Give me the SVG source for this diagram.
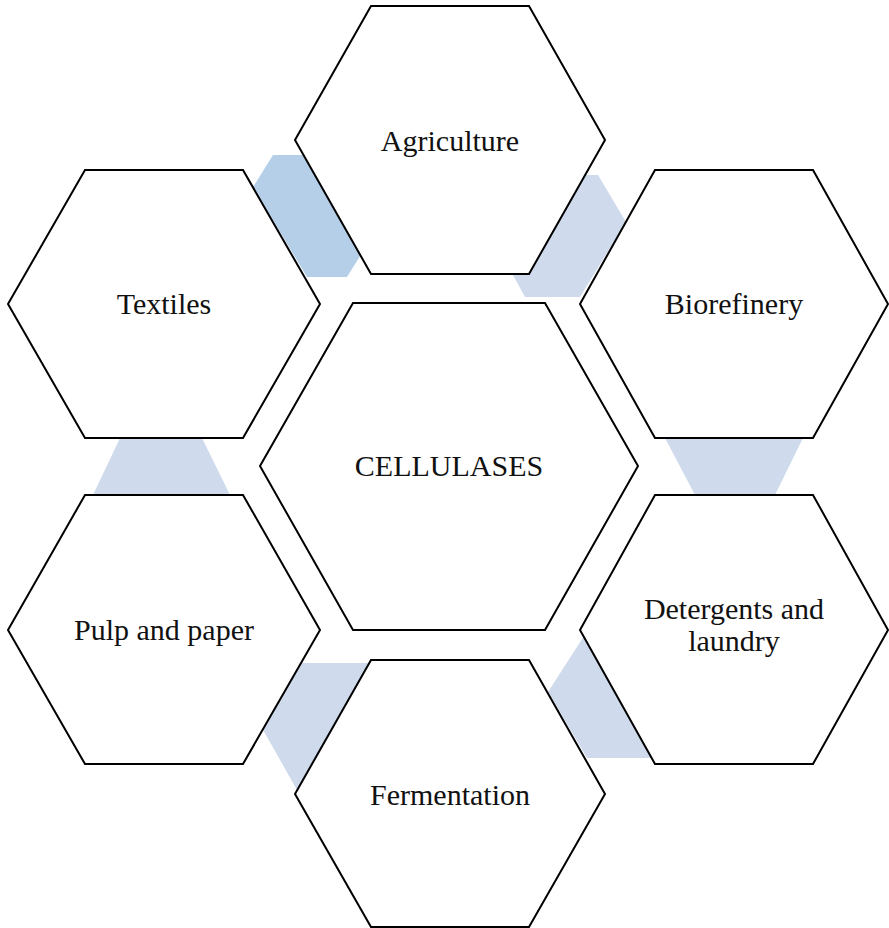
<svg xmlns="http://www.w3.org/2000/svg" width="889" height="928" viewBox="0 0 889 928">
<style>
.hex{fill:#ffffff;stroke:#000000;stroke-width:2;stroke-linejoin:miter}
.lbl{font-family:"Liberation Serif","Times New Roman",serif;font-size:30px;fill:#111111;text-anchor:middle}
.c1{fill:#b5cfe9}
.c2{fill:#cfdbec}
</style>
<rect width="889" height="928" fill="#ffffff"/>
<g id="connectors">
<polygon class="c1" points="273,155 305,155 362,253 347,277 307,277 253,187"/>
<polygon class="c2" points="586,175 598,175 626,222 580,297 525,297 513,275"/>
<polygon class="c2" points="120,438 202,438 230,495 93,495"/>
<polygon class="c2" points="665,438 803,438 775,495 695,495"/>
<polygon class="c2" points="300,663 371,663 297,790 262,728"/>
<polygon class="c2" points="584,636 548,692 587,758 655,758"/>
</g>
<g id="agriculture">
<polygon class="hex" points="371,6 529,6 605,140 529,274 371,274 295,140"/>
<text class="lbl" x="450" y="151">Agriculture</text>
</g>
<g id="textiles">
<polygon class="hex" points="85,170 243,170 320,304 243,438 85,438 8,304"/>
<text class="lbl" x="164" y="314">Textiles</text>
</g>
<g id="biorefinery">
<polygon class="hex" points="655,170 813,170 888,304 813,438 655,438 580,304"/>
<text class="lbl" x="734" y="314">Biorefinery</text>
</g>
<g id="cellulases">
<polygon class="hex" points="353,303 545,303 638,466 545,630 353,630 260,466"/>
<text class="lbl" x="449" y="476">CELLULASES</text>
</g>
<g id="pulp">
<polygon class="hex" points="85,495 243,495 320,630 243,764 85,764 8,630"/>
<text class="lbl" x="164" y="640">Pulp and paper</text>
</g>
<g id="detergents">
<polygon class="hex" points="655,495 813,495 888,630 813,764 655,764 580,630"/>
<text class="lbl" x="734" y="619">Detergents and</text>
<text class="lbl" x="734" y="651">laundry</text>
</g>
<g id="fermentation">
<polygon class="hex" points="371,660 529,660 605,794 529,927 371,927 295,794"/>
<text class="lbl" x="450" y="805">Fermentation</text>
</g>
</svg>
